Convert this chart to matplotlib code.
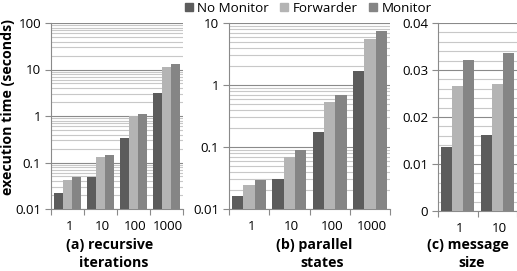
import matplotlib
matplotlib.use('Agg')
import matplotlib.pyplot as plt
from matplotlib.patches import Patch
from matplotlib.ticker import LogLocator, MultipleLocator, FixedLocator, NullFormatter
import numpy as np

plt.rcParams['font.family'] = ['Open Sans', 'DejaVu Sans']

series = ['No Monitor', 'Forwarder', 'Monitor']
colors = ['#5c5c5c', '#b4b4b4', '#858585']

cats_a = ['1', '10', '100', '1000']
no_monitor_a = [0.0224, 0.0495, 0.337, 3.08]
forwarder_a = [0.042, 0.129, 1.01, 11.5]
monitor_a = [0.048, 0.145, 1.10, 13.0]

cats_b = ['1', '10', '100', '1000']
no_monitor_b = [0.016, 0.0307, 0.173, 1.67]
forwarder_b = [0.0246, 0.070, 0.53, 5.6]
monitor_b = [0.0296, 0.089, 0.69, 7.55]

cats_c = ['1', '10']
no_monitor_c = [0.0136, 0.0162]
forwarder_c = [0.0267, 0.0270]
monitor_c = [0.0322, 0.0337]

W, H = 517, 271
fig = plt.figure(figsize=(W / 100, H / 100), dpi=100)

TICK_FS = 9.6
LABEL_FS = 10.2


def px(x0, y0, x1, y1):
    return [x0 / W, 1 - y1 / H, (x1 - x0) / W, (y1 - y0) / H]


def panel(rect, cats, vals, log, ylim, label1, label2, l1x, l2x):
    ax = fig.add_axes(rect)
    n = len(cats)
    x = np.arange(n)
    bw = 0.28
    for k, v in enumerate(vals):
        ax.bar(x + (k - 1) * bw, v, bw, color=colors[k], zorder=3, linewidth=0)
    ax.set_xlim(-0.5, n - 0.5)
    if log:
        ax.set_yscale('log')
        ax.yaxis.set_major_locator(LogLocator(base=10))
        ax.yaxis.set_minor_locator(LogLocator(base=10, subs=np.arange(2, 10)))
    else:
        ax.yaxis.set_major_locator(MultipleLocator(0.01))
        ax.yaxis.set_minor_locator(MultipleLocator(0.002))
    ax.yaxis.set_major_formatter(matplotlib.ticker.FuncFormatter(lambda v, p: ('%g' % v)))
    ax.set_ylim(*ylim)
    ax.yaxis.set_minor_formatter(NullFormatter())
    ax.grid(True, which='major', axis='y', color='#8a8a8a', linewidth=0.8, zorder=0)
    ax.grid(True, which='minor', axis='y', color='#c8c8c8', linewidth=0.8, zorder=0)
    ax.set_axisbelow(True)
    for s in ['top', 'right']:
        ax.spines[s].set_visible(False)
    for s in ['left', 'bottom']:
        ax.spines[s].set_color('#8a8a8a')
        ax.spines[s].set_linewidth(0.8)
    ax.tick_params(axis='y', which='major', length=4, color='#8a8a8a', labelsize=TICK_FS, pad=3)
    ax.tick_params(axis='y', which='minor', length=0)
    ax.xaxis.set_major_locator(FixedLocator(np.arange(n + 1) - 0.5))
    ax.xaxis.set_major_formatter(NullFormatter())
    ax.xaxis.set_minor_locator(FixedLocator(x + 0.05))
    ax.xaxis.set_minor_formatter(matplotlib.ticker.FixedFormatter(cats))
    ax.tick_params(axis='x', which='minor', length=0, labelsize=TICK_FS, pad=8)
    ax.tick_params(axis='x', which='major', length=4, color='#8a8a8a', direction='out')
    fig.text(l1x / W, 1 - 245 / H, label1, ha='center', va='center', fontsize=LABEL_FS, fontweight='bold')
    fig.text(l2x / W, 1 - 263 / H, label2, ha='center', va='center', fontsize=LABEL_FS, fontweight='bold')
    return ax


panel(px(51, 23, 183, 209), cats_a, [no_monitor_a, forwarder_a, monitor_a], True, (0.01, 100),
      '(a) recursive', 'iterations', 110, 114)
panel(px(229, 23, 390, 209), cats_b, [no_monitor_b, forwarder_b, monitor_b], True, (0.01, 10),
      '(b) parallel', 'states', 314, 322)
panel(px(438, 23, 517, 211), cats_c, [no_monitor_c, forwarder_c, monitor_c], False, (0, 0.04),
      '(c) message', 'size', 468, 472)

fig.text(8 / W, 1 - 107 / H, 'execution time (seconds)', rotation=90, ha='center', va='center',
         fontsize=LABEL_FS, fontweight='bold')

handles = [Patch(color=c, label=s) for c, s in zip(colors, series)]
fig.legend(handles=handles, loc='center', bbox_to_anchor=(308 / W, 1 - 8 / H), ncol=3, frameon=False,
           fontsize=TICK_FS, handlelength=0.6, handleheight=0.6, handletextpad=0.3, columnspacing=0.9,
           borderpad=0)

fig.savefig('out.png', dpi=100)
